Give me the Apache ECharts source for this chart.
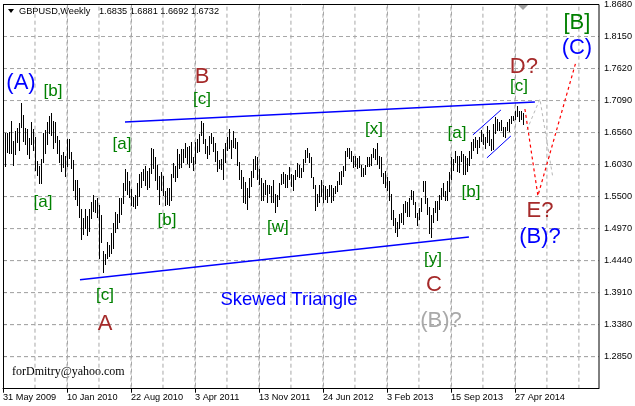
<!DOCTYPE html>
<html><head><meta charset="utf-8">
<script src="https://cdn.jsdelivr.net/npm/echarts@6/dist/echarts.min.js"></script>
<style>html,body{margin:0;padding:0;background:#fff}#c{width:635px;height:406px}</style>
</head><body><div id="c"></div>
<script>
// ---- data ----
const dateLabels = ['31 May 2009','10 Jan 2010','22 Aug 2010','3 Apr 2011','13 Nov 2011','24 Jun 2012','3 Feb 2013','15 Sep 2013','27 Apr 2014'];
const dateLabelBars = [0,32,64,96,128,160,192,224,256];
const gridBars = [16,32,48,64,80,96,112,128,144,160,176,192,208,224,240,256,272,288];
const priceLevels = [1.2850,1.3380,1.3910,1.4440,1.4970,1.5500,1.6030,1.6560,1.7090,1.7620,1.8150];
const priceMin = 1.2320, priceMax = 1.8680, priceStep = 0.0530;
const titleSymbol = 'GBPUSD,Weekly';
const titleOHLC = '1.6835 1.6881 1.6692 1.6732';
const highs = [
1.6660,1.6560,1.6545,1.6570,1.6744,1.6420,1.6590,1.6640,1.6720,1.7043,
1.6850,1.6640,1.6620,1.6470,1.6740,1.6620,1.6485,1.6090,1.6010,1.6120,
1.6550,1.6610,1.6730,1.6840,1.6877,1.6750,1.6740,1.6500,1.6430,1.6190,
1.6240,1.6170,1.6460,1.6450,1.6240,1.6110,1.5770,1.5780,1.5650,1.5290,
1.5140,1.5290,1.5180,1.5290,1.5410,1.5524,1.5450,1.5470,1.5360,1.5200,
1.4600,1.4550,1.4750,1.4700,1.4900,1.5060,1.5240,1.5220,1.5470,1.5470,
1.5720,1.5958,1.5910,1.5760,1.5620,1.5490,1.5520,1.5730,1.5870,1.5910,
1.5950,1.6000,1.5930,1.5970,1.6298,1.6280,1.6160,1.6030,1.5840,1.5900,
1.5840,1.5600,1.5650,1.5650,1.5880,1.6060,1.6000,1.6280,1.6200,1.6280,
1.6280,1.6380,1.6320,1.6340,1.6400,1.6160,1.6400,1.6450,1.6540,1.6746,
1.6720,1.6450,1.6340,1.6510,1.6550,1.6480,1.6380,1.6250,1.6100,1.6130,
1.6290,1.6380,1.6480,1.6618,1.6430,1.6580,1.6470,1.6410,1.6080,1.5940,
1.5820,1.5740,1.5640,1.5800,1.5920,1.6130,1.6166,1.6160,1.5960,1.5810,
1.5730,1.5780,1.5700,1.5700,1.5680,1.5780,1.5550,1.5520,1.5730,1.5880,
1.5910,1.5870,1.5850,1.5990,1.5870,1.5860,1.5940,1.6060,1.6020,1.5980,
1.6130,1.6270,1.6301,1.6230,1.6150,1.5830,1.5700,1.5550,1.5700,1.5780,
1.5700,1.5680,1.5620,1.5690,1.5700,1.5640,1.5680,1.5750,1.5910,1.5930,
1.6000,1.6250,1.6309,1.6310,1.6260,1.6170,1.6170,1.6140,1.6180,1.6030,
1.5970,1.6030,1.6160,1.6150,1.6200,1.6310,1.6280,1.6381,1.6180,1.6160,
1.5890,1.5920,1.5820,1.5750,1.5540,1.5270,1.5140,1.5080,1.5220,1.5230,
1.5370,1.5420,1.5410,1.5470,1.5610,1.5600,1.5410,1.5230,1.5310,1.5470,
1.5750,1.5752,1.5470,1.5330,1.5200,1.5310,1.5420,1.5420,1.5530,1.5650,
1.5720,1.5600,1.5760,1.5900,1.6160,1.6120,1.6259,1.6170,1.6170,1.6260,
1.6200,1.6170,1.6140,1.6250,1.6400,1.6460,1.6480,1.6440,1.6480,1.6600,
1.6540,1.6480,1.6670,1.6610,1.6450,1.6700,1.6823,1.6790,1.6740,1.6760,
1.6660,1.6650,1.6730,1.6790,1.6840,1.6830,1.6920,1.6996,1.6920,1.6920,
1.6881];
const lows = [
1.5955,1.5988,1.6220,1.6200,1.6210,1.6003,1.6185,1.6380,1.6260,1.6640,
1.6410,1.6360,1.6190,1.6130,1.6350,1.6250,1.5930,1.5840,1.5710,1.5707,
1.6060,1.6200,1.6360,1.6530,1.6500,1.6280,1.6390,1.6200,1.6060,1.5905,
1.5980,1.5830,1.5990,1.6120,1.5960,1.5590,1.5450,1.5350,1.5150,1.4781,
1.4860,1.4970,1.4840,1.4920,1.5130,1.5240,1.5230,1.5150,1.4470,1.4730,
1.4229,1.4370,1.4460,1.4500,1.4550,1.4630,1.4900,1.4960,1.5070,1.5200,
1.5370,1.5600,1.5530,1.5480,1.5340,1.5330,1.5290,1.5340,1.5490,1.5650,
1.5760,1.5680,1.5610,1.5650,1.5870,1.5950,1.5760,1.5610,1.5360,1.5600,
1.5510,1.5340,1.5360,1.5350,1.5420,1.5800,1.5740,1.5810,1.5960,1.5980,
1.6050,1.6140,1.6040,1.5980,1.6050,1.5930,1.6040,1.6230,1.6240,1.6500,
1.6370,1.6200,1.6120,1.6190,1.6370,1.6240,1.6080,1.5910,1.5950,1.5940,
1.5780,1.6050,1.6260,1.6280,1.6120,1.6300,1.6280,1.6000,1.5780,1.5630,
1.5390,1.5370,1.5272,1.5480,1.5660,1.5810,1.5940,1.5780,1.5700,1.5420,
1.5420,1.5530,1.5400,1.5540,1.5400,1.5400,1.5235,1.5320,1.5440,1.5690,
1.5710,1.5640,1.5640,1.5770,1.5660,1.5600,1.5780,1.5830,1.5800,1.5800,
1.5910,1.6060,1.6140,1.6060,1.5800,1.5630,1.5269,1.5320,1.5400,1.5490,
1.5390,1.5440,1.5400,1.5490,1.5400,1.5420,1.5540,1.5570,1.5690,1.5700,
1.5820,1.5920,1.6150,1.6120,1.6070,1.5970,1.5990,1.5960,1.5980,1.5830,
1.5830,1.5850,1.5990,1.5990,1.6010,1.6140,1.6110,1.6030,1.5960,1.5830,
1.5710,1.5650,1.5600,1.5420,1.5120,1.5010,1.4890,1.4831,1.4960,1.5070,
1.5030,1.5230,1.5160,1.5160,1.5450,1.5360,1.5150,1.5010,1.5110,1.5250,
1.5580,1.5380,1.5190,1.4880,1.4814,1.5060,1.5230,1.5100,1.5270,1.5440,
1.5500,1.5420,1.5420,1.5570,1.5780,1.5930,1.6060,1.5900,1.5890,1.6070,
1.5860,1.5860,1.5900,1.6000,1.6130,1.6260,1.6300,1.6200,1.6310,1.6400,
1.6350,1.6290,1.6380,1.6330,1.6250,1.6270,1.6530,1.6580,1.6580,1.6590,
1.6480,1.6463,1.6580,1.6570,1.6710,1.6750,1.6770,1.6810,1.6730,1.6770,
1.6692];
// trend lines (bar index, price)
const triangleUpper = [[61,1.6735],[266,1.7066]];
const triangleLower = [[38.5,1.4125],[233,1.4831]];
const channelUpper = [[235,1.6521],[249,1.6934]];
const channelLower = [[242,1.6141],[254,1.6504]];
const pathMain = [[261,1.6950],[267.5,1.5513],[286.5,1.7727]];
const pathAlt = [[262,1.6603],[268.5,1.7116],[275,1.5810]];
// wave labels
const labelText = ['(A)','[b]','[a]','[c]','A','[a]','[b]','B','[c]','[w]','[x]','[y]','C','(B)?','[a]','[b]','[c]','D?','E?','(B)?','[B]','(C)','Skewed Triangle'];
const labelBar  = [9,25,20,51,51,59.5,82,99.5,99.5,137.5,185.5,215,215.5,219,227,234,258,260.5,268.5,268.5,287,287,143];
const labelPrice= [1.7380,1.7240,1.5406,1.3870,1.3398,1.6364,1.5108,1.7479,1.7107,1.4984,1.6612,1.4470,1.4030,1.3448,1.6551,1.5571,1.7322,1.7645,1.5270,1.4825,1.8370,1.7954,1.3783];
const labelKind = ['blue','green','green','green','red','green','green','red','green','green','green','green','red','gray','green','green','green','red','red','blue','greenBig','blue','note'];

// ---- presentation ----
const F = '"Liberation Sans", Arial, sans-serif';
const kindStyle = {
  blue:{color:'#0000ff', font:'22px '+F},
  green:{color:'#008000', font:'17px '+F},
  greenBig:{color:'#008000', font:'22px '+F},
  red:{color:'#a52a2a', font:'22px '+F},
  gray:{color:'#a9a9a9', font:'22px '+F},
  note:{color:'#0000ff', font:'18.5px '+F}
};
const toY = v => Math.round((v - priceMin) * 100000) / 10; // pips above axis base
const uiFont = 9.2;
const X_MAX = 298;
const GRID_COLOR = '#a8a8a8';

const chart = echarts.init(document.getElementById('c'), null, {renderer:'canvas'});
function lineSeries(pts, color, width, type, z){
  return {type:'line', data: pts, symbol:'none', silent:true,
    lineStyle:{color, width, type}, z: z || 3, clip:false, animation:false};
}
const gridSeries = [];
gridBars.forEach(b => gridSeries.push(lineSeries([[b, 0],[b, toY(priceMax)]], GRID_COLOR, 1, [4,3], 1)));
priceLevels.forEach(v => gridSeries.push(lineSeries([[0, toY(v)],[X_MAX, toY(v)]], GRID_COLOR, 1, [4,3], 1)));
const toPts = arr => arr.map(p => [p[0], toY(p[1])]);

chart.setOption({
  animation:false,
  backgroundColor:'#fff',
  grid:{left:3, right:36, top:4, bottom:17.3, show:false},
  xAxis:{type:'value', min:0, max:X_MAX, interval:16,
    axisLine:{show:true, onZero:false, lineStyle:{color:'#000', width:1}},
    axisTick:{show:true, length:4, inside:false, customValues:dateLabelBars, lineStyle:{color:'#000'}},
    axisLabel:{customValues:dateLabelBars, align:'left', margin:4, color:'#000', fontSize:uiFont, fontFamily:F,
      formatter:v=>{const k=dateLabelBars.indexOf(v); return k>=0?dateLabels[k]:'';}},
    splitLine:{show:true, lineStyle:{color:GRID_COLOR, type:[4,3], width:1}}},
  yAxis:{type:'value', position:'right', min:0, max:toY(priceMax), interval:toY(priceMin+priceStep),
    axisLine:{show:true, lineStyle:{color:'#000', width:1}},
    axisTick:{show:true, length:4, inside:false, lineStyle:{color:'#000'}},
    axisLabel:{showMinLabel:false, margin:5, color:'#000', fontSize:uiFont, fontFamily:F,
      formatter:v=>(v/10000+priceMin).toFixed(4)},
    splitLine:{show:true, lineStyle:{color:GRID_COLOR, type:[4,3], width:1}}},
  graphic:[
    {type:'rect', shape:{x:3.5, y:4.5, width:595.5, height:384}, style:{fill:null, stroke:'#000', lineWidth:1}, silent:true, z:10},
    {type:'polygon', shape:{points:[[8,9],[14,9],[11,13]]}, style:{fill:'#000'}},
    {type:'text', x:19, y:11, style:{text:titleSymbol, fill:'#000', font:uiFont+'px '+F, verticalAlign:'middle', textVerticalAlign:'middle'}},
    {type:'text', x:99, y:11, style:{text:titleOHLC, fill:'#000', font:uiFont+'px '+F, verticalAlign:'middle', textVerticalAlign:'middle'}},
    {type:'text', x:12, y:372, style:{text:'forDmitry@yahoo.com', fill:'#000', font:'12px "Liberation Serif", "Times New Roman", serif', verticalAlign:'middle', textVerticalAlign:'middle'}},
    {type:'polygon', shape:{points:[[518,5],[528,5],[523,10]]}, style:{fill:'#a0a0a0'}}
  ],
  series: gridSeries.concat([
    {type:'custom', z:2, clip:true,
      data: highs.map((h,i)=>[i, toY(lows[i]), toY(h)]),
      encode:{x:0, y:[1,2]},
      renderItem:(params, api)=>{
        const lo = api.coord([api.value(0), api.value(1)]);
        const hi = api.coord([api.value(0), api.value(2)]);
        const x = Math.round(lo[0]);
        const y1 = Math.round(hi[1]), y2 = Math.round(lo[1]);
        return {type:'rect', shape:{x:x, y:y1, width:1, height:Math.max(1,y2-y1)}, style:{fill:'#000'}};
      }},
    lineSeries(toPts(triangleUpper),'#0000ff',1.5,'solid'),
    lineSeries(toPts(triangleLower),'#0000ff',1.5,'solid'),
    lineSeries(toPts(channelUpper),'#0000ff',1,'solid'),
    lineSeries(toPts(channelLower),'#0000ff',1,'solid'),
    lineSeries(toPts(pathAlt),'#b8b8b8',1,[3,3]),
    lineSeries(toPts(pathMain),'#ff0000',1.2,[3,3]),
    {type:'custom', z:5, clip:false,
      data: labelText.map((t,i)=>[labelBar[i], toY(labelPrice[i])]),
      encode:{x:0, y:1},
      renderItem:(params, api)=>{
        const p = api.coord([api.value(0), api.value(1)]);
        const st = kindStyle[labelKind[params.dataIndex]];
        return {type:'text', x:p[0], y:p[1], style:{text:labelText[params.dataIndex], fill:st.color, font:st.font,
          align:'center', verticalAlign:'middle', textAlign:'center', textVerticalAlign:'middle'}};
      }}
  ])
});
</script></body></html>
